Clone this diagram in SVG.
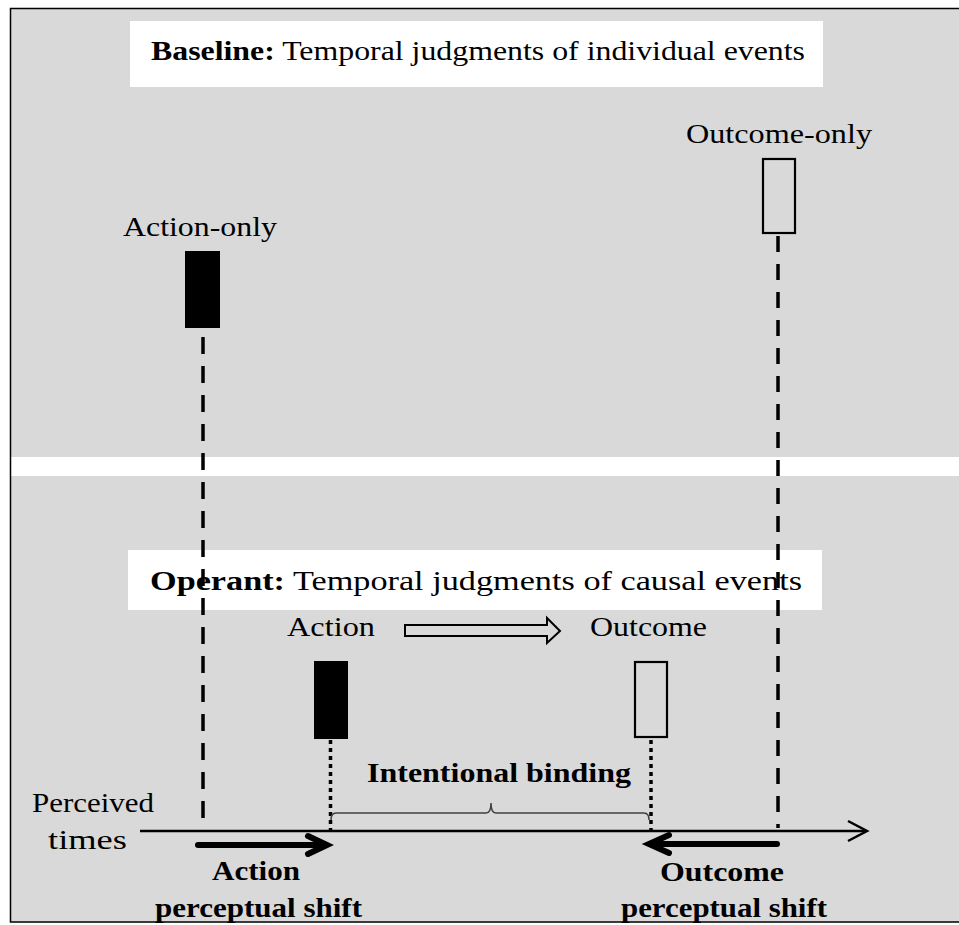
<svg xmlns="http://www.w3.org/2000/svg" width="959" height="925" viewBox="0 0 959 925">
<style>
text{font-family:"Liberation Serif","Times New Roman",serif;font-size:28px;fill:#000}
.b{font-weight:bold}
.panel{fill:#d9d9d9}
.frame{stroke:#000;stroke-width:1.5;fill:none}
.dash{stroke:#000;stroke-width:3.5;fill:none}
.dot{stroke:#000;stroke-width:3.5;stroke-dasharray:4 4;fill:none}
.shift{stroke:#000;stroke-width:6;fill:none;stroke-linecap:round}
</style>
<g id="background">
<rect class="panel" x="10" y="8" width="955" height="449"/>
<rect x="10" y="457" width="955" height="19" fill="#fff"/>
<rect class="panel" x="10" y="476" width="955" height="446"/>
<path class="frame" d="M965,8.5 H10.5 V922 H965"/>
</g>
<g id="title-baseline">
<rect x="130" y="21" width="693" height="66" fill="#fff"/>
<text x="151" y="60" textLength="654" lengthAdjust="spacingAndGlyphs"><tspan class="b">Baseline:</tspan> Temporal judgments of individual events</text>
</g>
<g id="title-operant">
<rect x="128" y="550" width="694" height="60" fill="#fff"/>
<text x="150" y="590" textLength="652" lengthAdjust="spacingAndGlyphs"><tspan class="b">Operant:</tspan> Temporal judgments of causal events</text>
</g>
<g id="connectors">
<line class="dash" x1="203" y1="337" x2="203" y2="820" stroke-dasharray="17 12"/>
<line class="dash" x1="778" y1="236" x2="778" y2="828" stroke-dasharray="16 12"/>
<line class="dot" x1="330.5" y1="740" x2="330.5" y2="830"/>
<line class="dot" x1="651" y1="740" x2="651" y2="830"/>
<path d="M405,625 H547 V618 L560,631 L547,643 V636 H405 Z" fill="none" stroke="#000" stroke-width="2"/>
</g>
<g id="action-only">
<text x="123" y="236" textLength="154" lengthAdjust="spacingAndGlyphs">Action-only</text>
<rect x="185" y="251" width="35" height="77" fill="#000"/>
</g>
<g id="outcome-only">
<text x="686" y="143" textLength="186" lengthAdjust="spacingAndGlyphs">Outcome-only</text>
<rect x="763" y="159" width="32" height="74" fill="none" stroke="#000" stroke-width="2.2"/>
</g>
<g id="action">
<text x="287" y="636" textLength="88" lengthAdjust="spacingAndGlyphs">Action</text>
<rect x="314" y="661" width="34" height="78" fill="#000"/>
</g>
<g id="outcome">
<text x="590" y="636" textLength="117" lengthAdjust="spacingAndGlyphs">Outcome</text>
<rect x="635" y="662" width="32" height="75" fill="none" stroke="#000" stroke-width="2.2"/>
</g>
<g id="intentional-binding">
<text class="b" x="367" y="782" textLength="264" lengthAdjust="spacingAndGlyphs">Intentional binding</text>
<path d="M331,820 Q331,813 336,813 L486,813 Q491,813 491,803 Q491,813 496,813 L644,813 Q649,813 649,820" fill="none" stroke="#404040" stroke-width="1.5"/>
</g>
<g id="axis">
<text x="32" y="812" textLength="122" lengthAdjust="spacingAndGlyphs">Perceived</text>
<text x="48" y="849" textLength="79" lengthAdjust="spacingAndGlyphs">times</text>
<line x1="140" y1="831" x2="866" y2="831" stroke="#000" stroke-width="2.5"/>
<polyline points="848,821 867,831 848,841" fill="none" stroke="#000" stroke-width="2.5"/>
</g>
<g id="action-shift">
<line class="shift" x1="198" y1="845" x2="325" y2="845"/>
<polyline class="shift" points="308,836 327,845 308,854"/>
<text class="b" x="212" y="880" textLength="88" lengthAdjust="spacingAndGlyphs">Action</text>
<text class="b" x="155" y="917" textLength="207" lengthAdjust="spacingAndGlyphs">perceptual shift</text>
</g>
<g id="outcome-shift">
<line class="shift" x1="777" y1="844" x2="651" y2="844"/>
<polyline class="shift" points="669,835 649,844 669,853"/>
<text class="b" x="660" y="881" textLength="124" lengthAdjust="spacingAndGlyphs">Outcome</text>
<text class="b" x="621" y="917" textLength="206" lengthAdjust="spacingAndGlyphs">perceptual shift</text>
</g>
</svg>
